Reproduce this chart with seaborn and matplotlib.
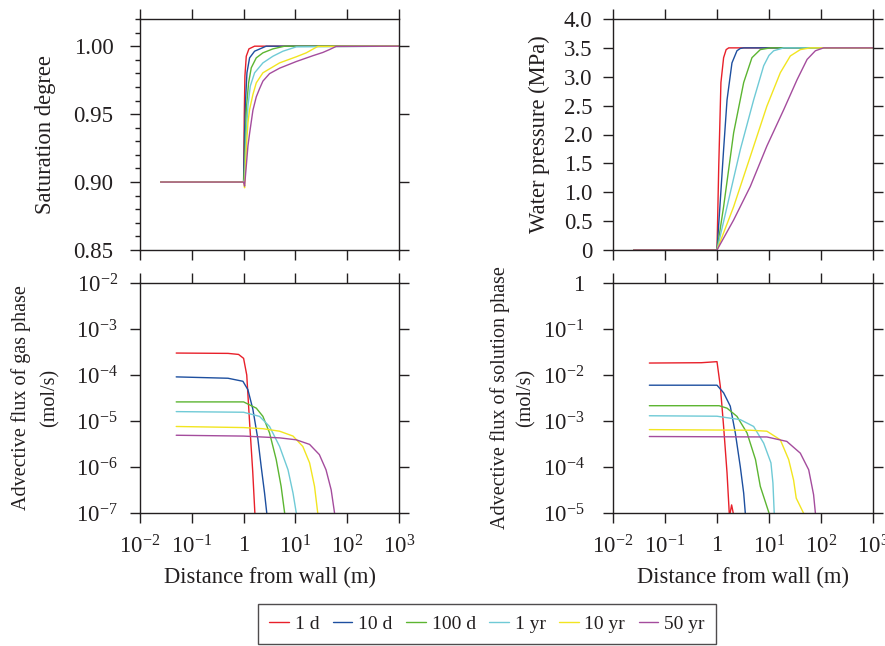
import matplotlib
matplotlib.use("Agg")
import matplotlib.pyplot as plt
from matplotlib.lines import Line2D
from matplotlib.ticker import FixedLocator, FuncFormatter, MultipleLocator, NullLocator
import numpy as np
import pandas as pd
import seaborn as sns

# series labels and colours
times = ["1 d", "10 d", "100 d", "1 yr", "10 yr", "50 yr"]
colors = ["#e8202a", "#1d4f9f", "#5cb531", "#6fcad6", "#f2e520", "#a44c9d"]

# saturation degree (top left)
sat_x = {
    "1 d": [0.025, 1.0, 1.03, 1.06, 1.126, 1.267, 1.63, 1000],
    "10 d": [0.025, 1.0, 1.045, 1.093, 1.16, 1.305, 1.63, 2.73, 1000],
    "100 d": [0.025, 1.0, 1.045, 1.126, 1.249, 1.406, 1.756, 2.36, 3.68, 6.2, 1000],
    "1 yr": [0.025, 1.0, 1.045, 1.126, 1.212, 1.345, 1.63, 2.36, 3.68, 5.75, 10.4, 1000],
    "10 yr": [0.025, 1.0, 1.045, 1.126, 1.212, 1.305, 1.514, 1.756, 2.36, 4.95, 10.4, 16.2, 27, 1000],
    "50 yr": [0.025, 1.0, 1.045, 1.126, 1.212, 1.305, 1.514, 1.756, 2.036, 2.36, 3.17, 4.95,
              10.4, 21.8, 34, 45.5, 61, 1000],
}
sat_y = {
    "1 d": [0.9, 0.9, 0.9485, 0.978, 0.9926, 0.998, 1.0, 1.0],
    "10 d": [0.9, 0.9, 0.9363, 0.9608, 0.9804, 0.9914, 0.9963, 1.0, 1.0],
    "100 d": [0.9, 0.9, 0.9118, 0.9534, 0.973, 0.9841, 0.9914, 0.9951, 0.998, 1.0, 1.0],
    "1 yr": [0.9, 0.9, 0.902, 0.9363, 0.9559, 0.9706, 0.9804, 0.9877, 0.9926, 0.9963, 0.9995, 1.0],
    "10 yr": [0.9, 0.9, 0.8958, 0.924, 0.9436, 0.9534, 0.9645, 0.973, 0.9804, 0.9877, 0.9922,
              0.9951, 0.9998, 1.0],
    "50 yr": [0.9, 0.9, 0.897, 0.9118, 0.9265, 0.9358, 0.9529, 0.9627, 0.9688, 0.9743, 0.9798,
              0.9838, 0.9887, 0.993, 0.9954, 0.9975, 0.9998, 1.0],
}

# water pressure, MPa (top right)
pres_x = {
    "1 d": [0.025, 1.0, 1.08, 1.19, 1.34, 1.5, 1.68, 1000],
    "10 d": [0.025, 1.0, 1.16, 1.34, 1.56, 1.94, 2.42, 2.8, 3.26, 1000],
    "100 d": [0.025, 1.0, 1.34, 2.09, 3.26, 4.7, 6.8, 10.6, 1000],
    "1 yr": [0.025, 1.0, 1.56, 2.81, 5.07, 7.9, 10.0, 12.3, 19.2, 1000],
    "10 yr": [0.025, 1.0, 2.09, 4.37, 9.1, 16.5, 25.7, 40, 62, 1000],
    "50 yr": [0.025, 1.0, 2.09, 4.37, 9.1, 19.2, 34.7, 54, 78, 112, 1000],
}
pres_y = {
    "1 d": [0, 0, 1.45, 2.9, 3.33, 3.47, 3.5, 3.5],
    "10 d": [0, 0, 0.87, 1.74, 2.6, 3.24, 3.45, 3.49, 3.5, 3.5],
    "100 d": [0, 0, 0.75, 2.03, 2.9, 3.33, 3.47, 3.5, 3.5],
    "1 yr": [0, 0, 0.75, 1.74, 2.6, 3.19, 3.37, 3.45, 3.5, 3.5],
    "10 yr": [0, 0, 0.75, 1.62, 2.49, 3.07, 3.36, 3.47, 3.5, 3.5],
    "50 yr": [0, 0, 0.52, 1.1, 1.8, 2.43, 2.95, 3.3, 3.45, 3.5, 3.5],
}

# advective flux of gas phase, mol/s (bottom left)
gas_x = {
    "1 d": [0.05, 0.5, 0.8, 1.0, 1.15, 1.3, 1.5, 1.65, 1.8],
    "10 d": [0.05, 0.5, 0.97, 1.21, 1.51, 1.89, 2.19, 2.54, 2.8, 3.0],
    "100 d": [0.05, 1.0, 1.76, 2.36, 3.17, 4.26, 5.3, 6.2, 6.6],
    "1 yr": [0.05, 1.0, 2.03, 3.17, 4.95, 7.2, 9.0, 10.4, 11],
    "10 yr": [0.05, 1.0, 2.36, 4.95, 9.0, 13.9, 18.8, 23.4, 27, 29],
    "50 yr": [0.05, 1.0, 4.95, 10.4, 18.8, 29, 39, 49, 57, 60],
}
gas_y = {
    "1 d": [3.0e-4, 2.95e-4, 2.8e-4, 2.3e-4, 1e-4, 1e-5, 8e-7, 1e-7, 1e-8],
    "10 d": [9.1e-5, 8.5e-5, 7.3e-5, 4.8e-5, 1.8e-5, 4e-6, 1.0e-6, 2.7e-7, 1e-7, 1e-8],
    "100 d": [2.6e-5, 2.6e-5, 1.9e-5, 1.26e-5, 5.5e-6, 1.45e-6, 3.8e-7, 1e-7, 1e-8],
    "1 yr": [1.6e-5, 1.55e-5, 1.26e-5, 7.6e-6, 2.8e-6, 8.7e-7, 2.7e-7, 1e-7, 1e-8],
    "10 yr": [7.6e-6, 7.2e-6, 6.8e-6, 6.0e-6, 4.7e-6, 2.8e-6, 1.23e-6, 3.8e-7, 1e-7, 1e-8],
    "50 yr": [4.9e-6, 4.7e-6, 4.3e-6, 3.9e-6, 3.1e-6, 1.86e-6, 8.7e-7, 3.2e-7, 1e-7, 1e-8],
}

# advective flux of solution phase, mol/s (bottom right)
sol_x = {
    "1 d": [0.05, 0.5, 1.0, 1.16, 1.34, 1.56, 1.72, 1.76, 1.79, 1.91, 2.05, 2.09],
    "10 d": [0.05, 1.0, 1.34, 1.8, 2.25, 2.81, 3.26, 3.5, 3.7],
    "100 d": [0.05, 1.1, 1.56, 2.42, 3.78, 5.5, 6.8, 10, 11],
    "1 yr": [0.05, 1.0, 2.81, 5.07, 7.9, 10.9, 11.9, 12.6, 13],
    "10 yr": [0.05, 4.4, 9.1, 16.5, 23.9, 29.7, 33.4, 46, 48],
    "50 yr": [0.05, 9.1, 22, 40, 58, 67, 72, 78, 80],
}
sol_y = {
    "1 d": [1.82e-2, 1.85e-2, 1.95e-2, 5.6e-3, 7.6e-4, 7.4e-5, 1e-5, 3e-6, 1e-5, 1.5e-5, 1e-5, 3e-6],
    "10 d": [6.0e-3, 6.0e-3, 4.1e-3, 2.1e-3, 5.5e-4, 1.0e-4, 2.7e-5, 1e-5, 1e-6],
    "100 d": [2.15e-3, 2.15e-3, 1.9e-3, 1.26e-3, 5.5e-4, 1.45e-4, 3.8e-5, 1e-5, 1e-6],
    "1 yr": [1.3e-3, 1.27e-3, 1.07e-3, 7.6e-4, 3.3e-4, 1.23e-4, 4.5e-5, 1e-5, 1e-6],
    "10 yr": [6.5e-4, 6.3e-4, 6.0e-4, 3.9e-4, 1.45e-4, 5.2e-5, 2.1e-5, 1e-5, 1e-6],
    "50 yr": [4.6e-4, 4.5e-4, 3.6e-4, 2.0e-4, 8.7e-5, 3.8e-5, 2.5e-5, 1e-5, 1e-6],
}

x_ticks = [1e-2, 1e-1, 1, 1e1, 1e2, 1e3]

ink = "#231f20"
sns.set_theme(style="ticks")
plt.rcParams["font.family"] = ["Liberation Serif", "DejaVu Serif"]
plt.rcParams["mathtext.fontset"] = "custom"
plt.rcParams["mathtext.rm"] = "Liberation Serif"
plt.rcParams["mathtext.it"] = "Liberation Serif:italic"
plt.rcParams["text.color"] = ink
plt.rcParams["axes.labelcolor"] = ink
plt.rcParams["xtick.color"] = ink
plt.rcParams["ytick.color"] = ink
plt.rcParams["axes.edgecolor"] = ink

TICK_FS = 16.5
LABEL_FS = 16.3


def to_long(xs, ys):
    rows = []
    for t in times:
        for xv, yv in zip(xs[t], ys[t]):
            rows.append((t, xv, yv))
    return pd.DataFrame(rows, columns=["time", "x", "y"])


def pow_label(v, pos):
    e = int(round(np.log10(v)))
    if e == 0:
        return "1"
    return r"$\mathregular{10^{%d}}$" % e


fig = plt.figure(figsize=(8.85, 6.46), dpi=100)
W, H = 885, 646


def add_ax(l, t, r, b):
    return fig.add_axes([l / W, 1 - b / H, (r - l) / W, (b - t) / H])


ax_sat = add_ax(140, 19, 399, 250)
ax_pre = add_ax(613, 19, 873, 250)
ax_gas = add_ax(140, 283, 399, 513)
ax_sol = add_ax(613, 283, 873, 513)

panels = [
    (ax_sat, sat_x, sat_y, 12),
    (ax_pre, pres_x, pres_y, 8),
    (ax_gas, gas_x, gas_y, 9),
    (ax_sol, sol_x, sol_y, 13.5),
]
for ax, xs, ys, ypad in panels:
    df = to_long(xs, ys)
    sns.lineplot(data=df, x="x", y="y", hue="time", hue_order=times,
                 palette=colors, sort=False, estimator=None, linewidth=1.0,
                 legend=False, ax=ax)
    ax.set_xscale("log")
    ax.set_xlim(1e-2, 1e3)
    ax.xaxis.set_major_locator(FixedLocator(x_ticks))
    ax.xaxis.set_minor_locator(NullLocator())
    ax.xaxis.set_major_formatter(FuncFormatter(pow_label))
    ax.tick_params(which="both", direction="out", top=True, right=True,
                   labelsize=TICK_FS, width=1.0, color=ink)
    ax.tick_params(which="major", length=7)
    ax.tick_params(which="minor", length=3.5)
    ax.tick_params(axis="y", pad=ypad)
    ax.tick_params(axis="x", pad=9)
    for sp in ax.spines.values():
        sp.set_visible(True)
        sp.set_linewidth(1.0)
    ax.set_xlabel("")
    ax.set_ylabel("")

for ax in (ax_sat, ax_pre):
    ax.tick_params(labelbottom=False)

# top left
ax_sat.set_ylim(0.85, 1.02)
ax_sat.yaxis.set_major_locator(FixedLocator([0.85, 0.90, 0.95, 1.00]))
ax_sat.yaxis.set_minor_locator(MultipleLocator(0.01))
ax_sat.yaxis.set_major_formatter(FuncFormatter(lambda v, p: "%.2f" % v))
ax_sat.tick_params(axis="y", which="minor", right=False)
ax_sat.set_ylabel("Saturation degree", fontsize=LABEL_FS)
ax_sat.yaxis.set_label_coords(-0.325, 0.5)

# top right
ax_pre.set_ylim(0, 4.0)
ax_pre.yaxis.set_major_locator(MultipleLocator(0.5))
ax_pre.yaxis.set_major_formatter(FuncFormatter(lambda v, p: "0" if v == 0 else "%.1f" % v))
ax_pre.set_ylabel("Water pressure (MPa)", fontsize=LABEL_FS)
ax_pre.yaxis.set_label_coords(-0.243, 0.5)

# bottom left
ax_gas.set_yscale("log")
ax_gas.set_ylim(1e-7, 1e-2)
ax_gas.yaxis.set_major_locator(FixedLocator([1e-7, 1e-6, 1e-5, 1e-4, 1e-3, 1e-2]))
ax_gas.yaxis.set_minor_locator(NullLocator())
ax_gas.yaxis.set_major_formatter(FuncFormatter(pow_label))
ax_gas.set_ylabel("Advective flux of gas phase\n(mol/s)", fontsize=14.5, linespacing=1.65)
ax_gas.yaxis.set_label_coords(-0.309, 0.5)

# bottom right
ax_sol.set_yscale("log")
ax_sol.set_ylim(1e-5, 1)
ax_sol.yaxis.set_major_locator(FixedLocator([1e-5, 1e-4, 1e-3, 1e-2, 1e-1, 1]))
ax_sol.yaxis.set_minor_locator(NullLocator())
ax_sol.yaxis.set_major_formatter(FuncFormatter(pow_label))
ax_sol.set_ylabel("Advective flux of solution phase\n(mol/s)", fontsize=14.5, linespacing=1.5)
ax_sol.yaxis.set_label_coords(-0.296, 0.5)

for ax in (ax_gas, ax_sol):
    ax.set_xlabel("Distance from wall (m)", fontsize=LABEL_FS, labelpad=6)
    ax.set_xlim(1e-2, 1e3)

handles = [Line2D([], [], color=c, linewidth=1.0) for c in colors]
leg = fig.legend(handles, times, ncol=6, loc="center",
                 bbox_to_anchor=(487 / W, 1 - 624 / H), frameon=True,
                 fancybox=False, edgecolor=ink, fontsize=14,
                 handlelength=1.0, handletextpad=0.3, columnspacing=0.7,
                 borderpad=0.6)
leg.get_frame().set_linewidth(1.0)

fig.savefig("out.png", dpi=100)
